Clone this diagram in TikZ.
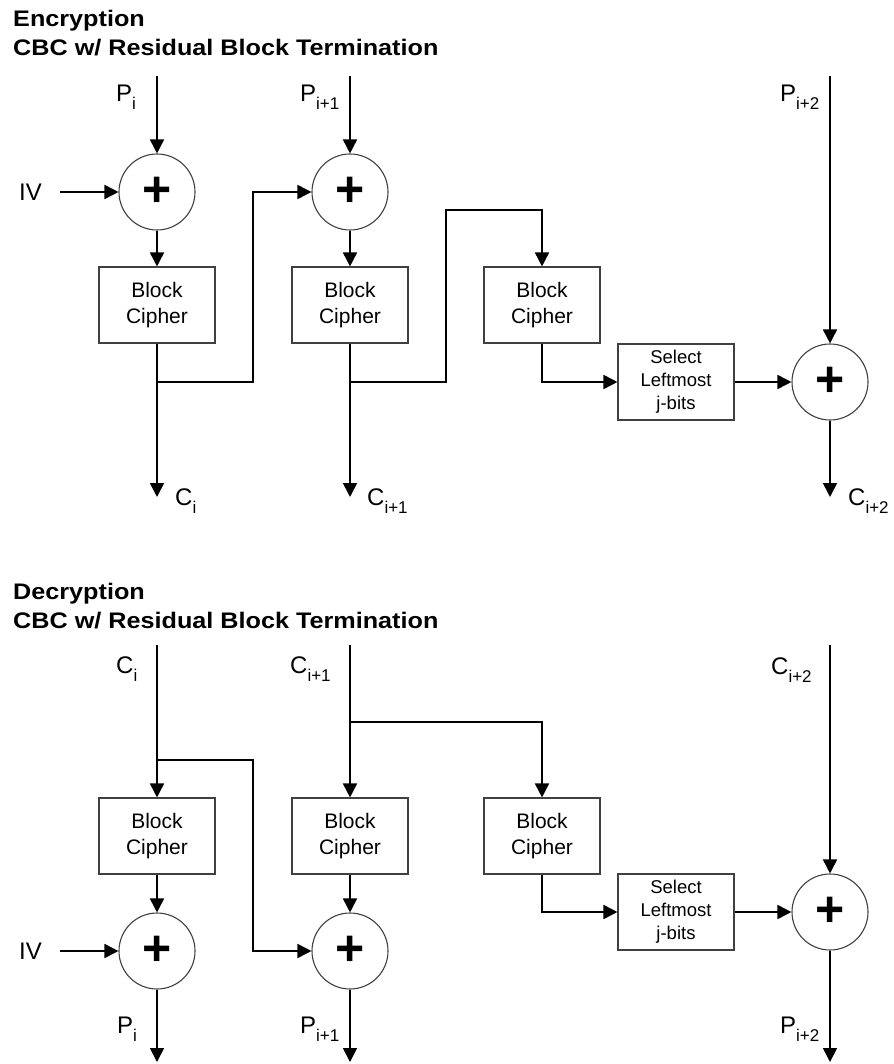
\documentclass[tikz,border=0pt]{standalone}
\usepackage{fontspec}
\setmainfont{Liberation Sans}
\usetikzlibrary{arrows.meta}
\newcommand{\lbl}[2]{#1\raisebox{-8pt}{\fontsize{17}{17}\selectfont #2}}
\newcommand{\ttl}[1]{\scalebox{1.12}[1]{\fontsize{22.5}{26}\selectfont\bfseries #1}}
\begin{document}
\begin{tikzpicture}[x=1pt,y=-1pt,
  conn/.style={line width=1.7pt, draw=black},
  arr/.style={conn, -{Triangle[length=14pt,width=14pt]}},
  blockbox/.style={draw=black!75, line width=1.1pt, minimum width=116pt, minimum height=76pt, inner sep=0pt, align=center, font=\fontsize{21}{26}\selectfont},
  selbox/.style={blockbox, font=\fontsize{18.5}{23}\selectfont},
  xorc/.style={circle, draw=black!75, line width=1.1pt, minimum size=76pt, inner sep=0pt, font=\fontsize{50}{50}\selectfont\bfseries},
  lab/.style={anchor=base west, inner sep=0pt, font=\fontsize{24}{28}\selectfont},
  ttlnode/.style={anchor=base west, inner sep=0pt}
]
\useasboundingbox (0,0) rectangle (893,1064);

% ---------------- Encryption ----------------
\node[ttlnode] (etitle1) at (13,27) {\ttl{Encryption}};
\node[ttlnode] (etitle2) at (13,56) {\ttl{CBC w/ Residual Block Termination}};

\node[xorc] (ex1) at (157,192) {+};
\node[xorc] (ex2) at (350,192) {+};
\node[xorc] (ex3) at (830,382) {+};
\node[blockbox] (eb1) at (157,305) {Block\\Cipher};
\node[blockbox] (eb2) at (350,305) {Block\\Cipher};
\node[blockbox] (eb3) at (542,305) {Block\\Cipher};
\node[selbox] (esel) at (676,382) {Select\\Leftmost\\j-bits};

\coordinate (ep1) at (157,76);
\coordinate (ep2) at (350,76);
\coordinate (ep3) at (830,76);
\coordinate (eiv) at (60,192);
\coordinate (ec1) at (157,497);
\coordinate (ec2) at (350,497);
\coordinate (ec3) at (830,497);
\coordinate (ej1) at (253,382);
\coordinate (ej2) at (446,382);
\coordinate (ek2) at (446,210);

\node[lab] (lep1) at (116,102) {\lbl{P}{i}};
\node[lab] (lep2) at (300,102) {\lbl{P}{i+1}};
\node[lab] (lep3) at (780,102) {\lbl{P}{i+2}};
\node[lab] (lec1) at (175,505) {\lbl{C}{i}};
\node[lab] (lec2) at (367,505) {\lbl{C}{i+1}};
\node[lab] (lec3) at (848,505) {\lbl{C}{i+2}};
\node[anchor=west, inner sep=0pt, font=\fontsize{24}{28}\selectfont] (leiv) at (19,192) {IV};

\draw[arr] (ep1) -- (ex1.north);
\draw[arr] (ep2) -- (ex2.north);
\draw[arr] (ep3) -- (ex3.north);
\draw[arr] (eiv) -- (ex1.west);
\draw[arr] (ex1.south) -- (eb1.north);
\draw[arr] (ex2.south) -- (eb2.north);
\draw[arr] (eb1.south) -- (ec1);
\draw[arr] (eb2.south) -- (ec2);
\draw[arr] (eb1.south) |- (ej1) |- (ex2.west);
\draw[arr] (eb2.south) |- (ej2) -- (ek2) -| (eb3.north);
\draw[arr] (eb3.south) |- (esel.west);
\draw[arr] (esel.east) -- (ex3.west);
\draw[arr] (ex3.south) -- (ec3);

% ---------------- Decryption ----------------
\node[ttlnode] (dtitle1) at (13,599) {\ttl{Decryption}};
\node[ttlnode] (dtitle2) at (13,628) {\ttl{CBC w/ Residual Block Termination}};

\node[blockbox] (db1) at (157,836) {Block\\Cipher};
\node[blockbox] (db2) at (350,836) {Block\\Cipher};
\node[blockbox] (db3) at (542,836) {Block\\Cipher};
\node[xorc] (dx1) at (157,951) {+};
\node[xorc] (dx2) at (350,951) {+};
\node[xorc] (dx3) at (830,912) {+};
\node[selbox] (dsel) at (676,912) {Select\\Leftmost\\j-bits};

\coordinate (dc1) at (157,645);
\coordinate (dc2) at (350,645);
\coordinate (dc3) at (830,645);
\coordinate (div) at (60,951);
\coordinate (dp1) at (157,1062);
\coordinate (dp2) at (350,1062);
\coordinate (dp3) at (830,1062);
\coordinate (dj1) at (157,760);
\coordinate (dk1) at (253,760);
\coordinate (dj2) at (350,722);

\node[lab] (ldc1) at (116,673) {\lbl{C}{i}};
\node[lab] (ldc2) at (290,673) {\lbl{C}{i+1}};
\node[lab] (ldc3) at (771,674) {\lbl{C}{i+2}};
\node[lab] (ldp1) at (117,1033) {\lbl{P}{i}};
\node[lab] (ldp2) at (300,1033) {\lbl{P}{i+1}};
\node[lab] (ldp3) at (780,1033) {\lbl{P}{i+2}};
\node[anchor=west, inner sep=0pt, font=\fontsize{24}{28}\selectfont] (ldiv) at (19,951) {IV};

\draw[arr] (dc1) -- (db1.north);
\draw[arr] (dc2) -- (db2.north);
\draw[arr] (dc3) -- (dx3.north);
\draw[arr] (dj1) -- (dk1) |- (dx2.west);
\draw[arr] (dj2) -| (db3.north);
\draw[arr] (db1.south) -- (dx1.north);
\draw[arr] (db2.south) -- (dx2.north);
\draw[arr] (div) -- (dx1.west);
\draw[arr] (dx1.south) -- (dp1);
\draw[arr] (dx2.south) -- (dp2);
\draw[arr] (db3.south) |- (dsel.west);
\draw[arr] (dsel.east) -- (dx3.west);
\draw[arr] (dx3.south) -- (dp3);
\end{tikzpicture}
\end{document}
